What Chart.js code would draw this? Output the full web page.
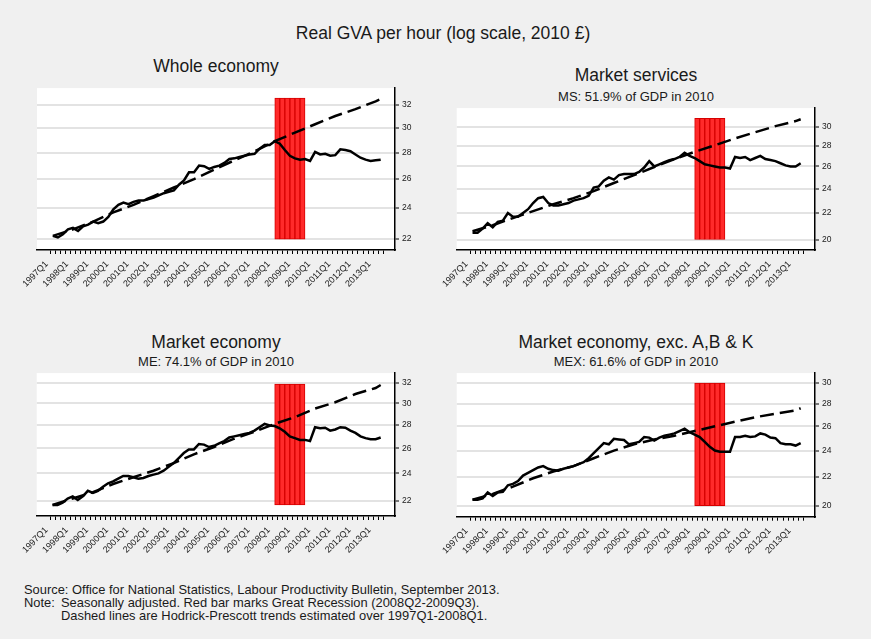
<!DOCTYPE html>
<html>
<head>
<meta charset="utf-8">
<script src="https://cdn.jsdelivr.net/npm/chart.js@4.4.1/dist/chart.umd.min.js"></script>
<style>
  body { margin: 0; width: 871px; height: 639px; overflow: hidden; background: #f0f0f0;
         font-family: "Liberation Sans", Arial, sans-serif; color: #1a1a1a; }
  .t { position: absolute; width: 400px; text-align: center; white-space: nowrap; }
  .big { font-size: 17.5px; line-height: 20px; }
  .sub { font-size: 13px; line-height: 16px; }
  canvas { position: absolute; }
  #notes { position: absolute; left: 24px; top: 583px; font-size: 12.9px; line-height: 13px; white-space: nowrap; }
  #notes .lab { display: inline-block; width: 37px; }
</style>
</head>
<body>
<div class="t big" style="left:243px;top:23px">Real GVA per hour (log scale, 2010 £)</div>
<div class="t big" style="left:16px;top:56px">Whole economy</div>
<div class="t big" style="left:436px;top:65px">Market services</div>
<div class="t sub" style="left:436px;top:89px">MS: 51.9% of GDP in 2010</div>
<div class="t big" style="left:16px;top:332px">Market economy</div>
<div class="t sub" style="left:16px;top:354px">ME: 74.1% of GDP in 2010</div>
<div class="t big" style="left:436px;top:332px">Market economy, exc. A,B &amp; K</div>
<div class="t sub" style="left:436px;top:354px">MEX: 61.6% of GDP in 2010</div>

<canvas id="c1" width="435" height="225" style="left:0px;top:80px"></canvas>
<canvas id="c2" width="436" height="205" style="left:435px;top:100px"></canvas>
<canvas id="c3" width="435" height="205" style="left:0px;top:365px"></canvas>
<canvas id="c4" width="436" height="205" style="left:435px;top:365px"></canvas>

<div id="notes">
  <div>Source: Office for National Statistics, Labour Productivity Bulletin, September 2013.</div>
  <div><span class="lab">Note:</span>Seasonally adjusted. Red bar marks Great Recession (2008Q2-2009Q3).</div>
  <div style="padding-left:37px">Dashed lines are Hodrick-Prescott trends estimated over 1997Q1-2008Q1.</div>
</div>

<script>
// quarters 1997Q1 .. 2013Q2
const quarters = [];
for (let y = 1997; y <= 2013; y++) {
  for (let q = 1; q <= 4; q++) {
    if (y === 2013 && q > 2) break;
    quarters.push(y + 'Q' + q);
  }
}

const recessionQuarters = ['2008Q2', '2008Q3', '2008Q4', '2009Q1', '2009Q2', '2009Q3'];

const trendQuarters = ['1997Q1', '1998Q1', '1999Q1', '2000Q1', '2001Q1', '2002Q1', '2003Q1', '2004Q1', '2005Q1',
  '2006Q1', '2007Q1', '2008Q1', '2009Q1', '2010Q1', '2011Q1', '2012Q1', '2013Q1', '2013Q2'];

// Real GVA per hour, 2010 £
const wholeEconomy = [22.2, 22.1, 22.3, 22.6, 22.7, 22.5, 22.8, 22.9, 23.1, 23.0, 23.1, 23.4,
  23.9, 24.2, 24.35, 24.25, 24.4, 24.5, 24.5, 24.6, 24.7, 24.85, 25.0, 25.1, 25.2, 25.6, 25.9, 26.5,
  26.5, 27.0, 26.95, 26.75, 26.9, 27.0, 27.2, 27.5, 27.55, 27.65, 27.75, 27.85, 27.9, 28.3, 28.6, 28.6,
  28.9, 28.7, 28.2, 27.75, 27.55, 27.45, 27.5, 27.35, 28.05, 27.85, 27.9, 27.75, 27.8, 28.25, 28.2, 28.1,
  27.85, 27.6, 27.45, 27.35, 27.4, 27.45];
const wholeTrend = [22.2, 22.6, 23.1, 23.7, 24.2, 24.8, 25.4, 26.0, 26.7, 27.4, 28.1, 28.9, 29.6, 30.3, 31.0, 31.6, 32.3, 32.5];

const marketServices = [20.5, 20.5, 20.8, 21.2, 20.9, 21.3, 21.4, 22.0, 21.7, 21.7, 22.0, 22.3,
  22.8, 23.2, 23.3, 22.8, 22.6, 22.6, 22.7, 22.8, 23.0, 23.1, 23.2, 23.4, 24.1, 24.2, 24.7, 25.0,
  24.8, 25.2, 25.3, 25.3, 25.3, 25.5, 25.9, 26.5, 26.0, 26.2, 26.4, 26.6, 26.7, 26.9, 27.3, 27.0,
  26.8, 26.5, 26.2, 26.1, 26.0, 25.9, 25.9, 25.8, 26.9, 26.8, 26.9, 26.6, 26.8, 27.0, 26.7, 26.6,
  26.5, 26.3, 26.1, 26.0, 26.0, 26.3];
const servicesTrend = [20.6, 21.05, 21.6, 22.15, 22.7, 23.2, 23.8, 24.5, 25.2, 25.95, 26.7, 27.4, 28.05, 28.75, 29.4, 30.05, 30.6, 30.8];

const marketEconomy = [21.7, 21.7, 21.85, 22.15, 22.3, 22.05, 22.3, 22.7, 22.55, 22.7, 23.0, 23.25,
  23.4, 23.6, 23.8, 23.8, 23.7, 23.6, 23.65, 23.8, 23.9, 24.0, 24.2, 24.5, 24.8, 25.2, 25.6, 25.9,
  25.9, 26.35, 26.3, 26.1, 26.2, 26.4, 26.6, 26.9, 27.0, 27.1, 27.2, 27.3, 27.5, 27.8, 28.1, 27.95,
  27.9, 27.7, 27.4, 27.0, 26.85, 26.7, 26.7, 26.6, 27.8, 27.7, 27.75, 27.5, 27.6, 27.8, 27.75, 27.5,
  27.3, 27.0, 26.85, 26.75, 26.75, 26.9];
const marketTrend = [21.7, 22.15, 22.6, 23.2, 23.7, 24.2, 24.8, 25.5, 26.1, 26.8, 27.4, 28.1, 28.7, 29.5, 30.1, 30.9, 31.5, 31.8];

const marketExABK = [20.4, 20.4, 20.5, 20.9, 20.65, 20.9, 20.95, 21.4, 21.5, 21.7, 22.1, 22.3,
  22.5, 22.7, 22.8, 22.6, 22.5, 22.45, 22.6, 22.7, 22.8, 22.95, 23.1, 23.4, 23.8, 24.2, 24.6, 24.5,
  24.95, 24.9, 24.85, 24.5, 24.6, 24.7, 25.1, 25.05, 24.8, 25.05, 25.2, 25.3, 25.4, 25.6, 25.8, 25.5,
  25.3, 25.1, 24.7, 24.3, 24.0, 23.9, 23.9, 23.9, 25.1, 25.1, 25.2, 25.1, 25.15, 25.4, 25.3, 25.05,
  25.0, 24.6, 24.5, 24.5, 24.4, 24.6];
const exABKTrend = [20.4, 20.8, 21.3, 21.9, 22.4, 22.8, 23.4, 24.0, 24.5, 24.9, 25.2, 25.6, 26.0, 26.4, 26.8, 27.1, 27.4, 27.6];

// y tick labels
const ticks22to32 = [22, 24, 26, 28, 30, 32];
const ticks20to30 = [20, 22, 24, 26, 28, 30];

// recession shading [low, high] per panel
const shadeWhole = [22, 32.6];
const shadeServices = [20, 30.9];
const shadeMarket = [21.7, 31.9];
const shadeExABK = [20, 30];

Chart.defaults.font.family = '"Liberation Sans", Arial, sans-serif';
Chart.defaults.color = '#1a1a1a';

const plotBg = {
  id: 'plotBg',
  beforeDraw(chart) {
    const { ctx, chartArea: a } = chart;
    ctx.save();
    ctx.fillStyle = '#ffffff';
    ctx.fillRect(a.left, a.top, a.right - a.left, a.bottom - a.top);
    ctx.restore();
  }
};

function drawPanel(id, box, actual, trend, yTicks, yMin, yMax, shade) {
  const ctx = document.getElementById(id).getContext('2d');
  return new Chart(ctx, {
    type: 'line',
    data: {
      datasets: [
        {
          data: quarters.map((q, i) => ({ x: i, y: actual[i] })),
          borderColor: '#000', borderWidth: 2.5, pointRadius: 0, order: 1
        },
        {
          data: trendQuarters.map((q, k) => ({ x: quarters.indexOf(q), y: trend[k] })),
          borderColor: '#000', borderWidth: 2.5, borderDash: [14, 6], pointRadius: 0, order: 2
        },
        {
          type: 'bar',
          data: recessionQuarters.map(q => ({ x: quarters.indexOf(q) - 0.5, y: shade })),
          backgroundColor: '#ff2a2a', borderColor: '#d60000', borderWidth: 1, borderSkipped: false,
          barPercentage: 1, categoryPercentage: 1, order: 3
        }
      ]
    },
    options: {
      responsive: false,
      animation: false,
      layout: { padding: { left: box.left, top: box.top, right: 0, bottom: 0 } },
      plugins: { legend: { display: false }, tooltip: { enabled: false } },
      scales: {
        x: {
          type: 'linear', min: -2.6, max: 67.3,
          afterBuildTicks: s => { s.ticks = quarters.map((q, i) => ({ value: i })); },
          afterFit: s => { s.height = box.xh; },
          grid: { drawOnChartArea: false, drawTicks: true, tickLength: 4, tickColor: '#000', tickWidth: 1 },
          border: { display: true, color: '#000', width: 1.5 },
          ticks: {
            autoSkip: false, maxRotation: 45, minRotation: 45, padding: 5, labelOffset: -6,
            font: { size: 9 }, color: '#1a1a1a',
            callback: v => (quarters[v] && quarters[v].endsWith('Q1')) ? quarters[v] : ''
          }
        },
        y: {
          type: 'logarithmic', position: 'right', min: yMin, max: yMax,
          afterBuildTicks: s => { s.ticks = yTicks.map(v => ({ value: v })); },
          afterFit: s => { s.width = box.yw; },
          grid: { color: '#e3e3e3', lineWidth: 2, tickLength: 4, tickColor: '#000', tickWidth: 1 },
          border: { display: true, color: '#000', width: 1.5 },
          ticks: { padding: 3, font: { size: 8.5 }, color: '#1a1a1a', callback: v => String(v) }
        }
      }
    },
    plugins: [plotBg]
  });
}

drawPanel('c1', { left: 37, top: 7.7, xh: 55, yw: 40 }, wholeEconomy, wholeTrend, ticks22to32, 21.34, 33.51, shadeWhole);
drawPanel('c2', { left: 21.7, top: 6.7, xh: 55, yw: 56 }, marketServices, servicesTrend, ticks20to30, 19.26, 32.06, shadeServices);
drawPanel('c3', { left: 36.7, top: 7.7, xh: 54, yw: 40 }, marketEconomy, marketTrend, ticks22to32, 20.95, 33.03, shadeMarket);
drawPanel('c4', { left: 21.7, top: 7.7, xh: 53.3, yw: 56 }, marketExABK, exABKTrend, ticks20to30, 19.29, 31.0, shadeExABK);
</script>
</body>
</html>
